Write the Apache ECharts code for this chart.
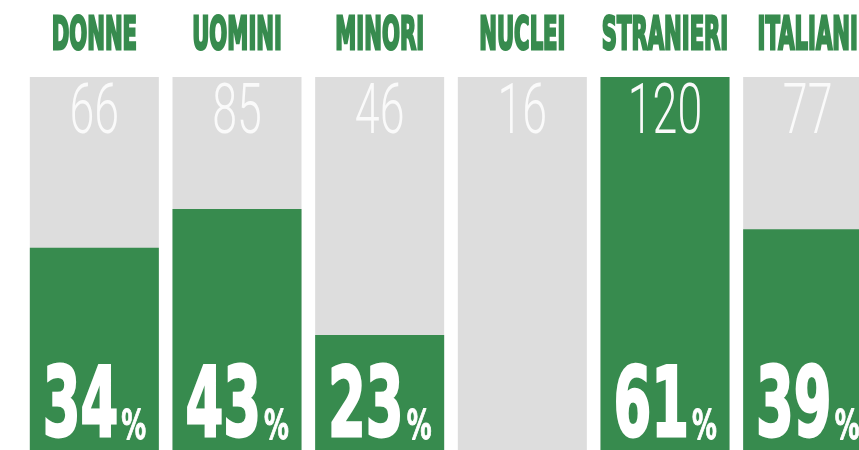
<!DOCTYPE html>
<html>
<head>
<meta charset="utf-8">
<script src="https://cdn.jsdelivr.net/npm/echarts@6/dist/echarts.min.js"></script>
<style>
html,body{margin:0;padding:0;background:#fff;}
#chart{width:859px;height:450px;}
</style>
</head>
<body>
<div id="chart"></div>
<script>
// Data
var categories = ['DONNE', 'UOMINI', 'MINORI', 'NUCLEI', 'STRANIERI', 'ITALIANI'];
var counts = [66, 85, 46, 16, 120, 77];
var percents = [34, 43, 23, null, 61, 39];
var fillShare = [54.2, 64.6, 30.8, 0, 100, 59.2]; // green part of each column (% of column height)

var GREEN = '#378b4e';
var GREY = '#dddddd';

var chart = echarts.init(document.getElementById('chart'), null, {renderer: 'canvas'});

var labelData = categories.map(function (c, i) { return [i, 0]; });

function renderLabels(params, api) {
  var i = api.value(0);
  var top = api.coord([i, 100]);
  var bottom = api.coord([i, 0]);
  var cx = top[0];
  var children = [];
  // header
  children.push({
    type: 'text', x: cx, y: top[1] - 40, scaleX: 0.47, scaleY: 1,
    style: {
      text: categories[i], fill: GREEN, stroke: GREEN, lineWidth: 3,
      font: 'bold 45px "DejaVu Sans", sans-serif',
      align: 'center', verticalAlign: 'middle'
    }
  });
  // count
  children.push({
    type: 'text', x: cx, y: top[1] + 38, scaleX: 0.63, scaleY: 1,
    style: {
      text: String(counts[i]), fill: '#fafafa',
      font: '300 71px Roboto, "Liberation Sans", sans-serif',
      align: 'center', verticalAlign: 'middle'
    }
  });
  if (percents[i] != null) {
    children.push({
      type: 'text', x: cx + 24, y: bottom[1] - 39, scaleX: 0.56, scaleY: 1,
      style: {
        text: String(percents[i]), fill: '#ffffff', stroke: '#ffffff', lineWidth: 3,
        font: 'bold 97px "DejaVu Sans", sans-serif',
        align: 'right', verticalAlign: 'middle'
      }
    });
    children.push({
      type: 'text', x: cx + 27, y: bottom[1] - 21, scaleX: 0.62, scaleY: 1,
      style: {
        text: '%', fill: '#ffffff', stroke: '#ffffff', lineWidth: 1,
        font: 'bold 40px "DejaVu Sans", sans-serif',
        align: 'left', verticalAlign: 'middle'
      }
    });
  }
  return {type: 'group', children: children};
}

chart.setOption({
  animation: false,
  backgroundColor: '#ffffff',
  grid: {left: 23, right: -20, top: 77, bottom: 0, containLabel: false, outerBoundsMode: 'none'},
  xAxis: {
    type: 'category', data: categories,
    axisLine: {show: false}, axisTick: {show: false}, axisLabel: {show: false}, splitLine: {show: false}
  },
  yAxis: {
    type: 'value', min: 0, max: 100,
    axisLine: {show: false}, axisTick: {show: false}, axisLabel: {show: false}, splitLine: {show: false}
  },
  series: [
    {
      type: 'bar', data: fillShare, barWidth: 129,
      itemStyle: {color: GREEN},
      showBackground: true,
      backgroundStyle: {color: GREY},
      z: 2
    },
    {
      type: 'custom', data: labelData, renderItem: renderLabels, z: 5, clip: false
    }
  ]
});
</script>
</body>
</html>
